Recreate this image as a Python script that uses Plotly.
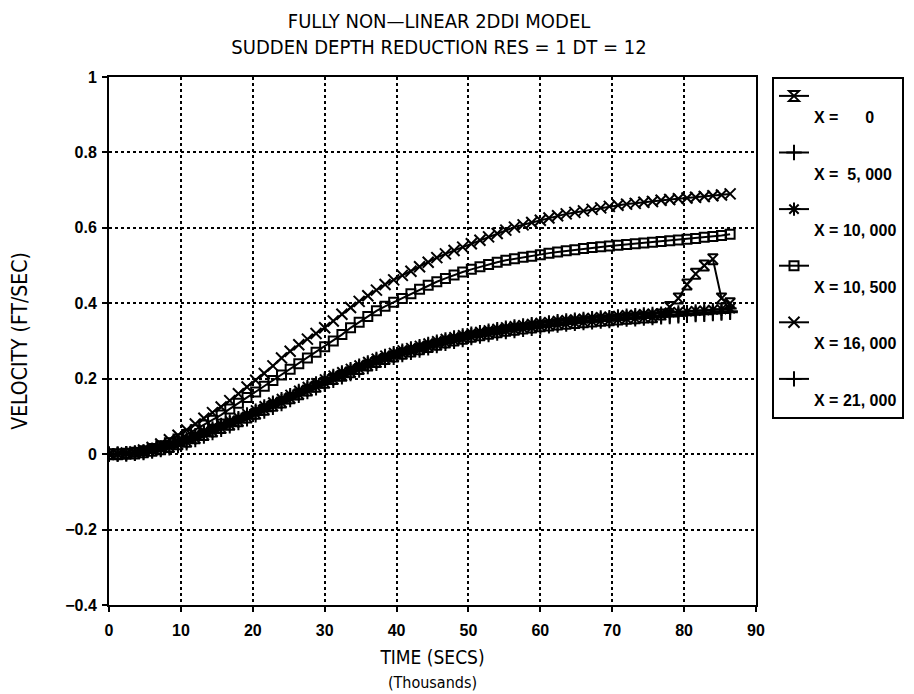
import plotly.graph_objects as go

# Time in thousands of seconds
time_k = [0, 1.2, 2.4, 3.6, 4.8, 6, 7.2, 8.4, 9.6, 10.8, 12, 13.2, 14.4, 15.6, 16.8, 18,
          19.2, 20.4, 21.6, 22.8, 24, 25.2, 26.4, 27.6, 28.8, 30, 31.2, 32.4, 33.6, 34.8,
          36, 37.2, 38.4, 39.6, 40.8, 42, 43.2, 44.4, 45.6, 46.8, 48, 49.2, 50.4, 51.6,
          52.8, 54, 55.2, 56.4, 57.6, 58.8, 60, 61.2, 62.4, 63.6, 64.8, 66, 67.2, 68.4,
          69.6, 70.8, 72, 73.2, 74.4, 75.6, 76.8, 78, 79.2, 80.4, 81.6, 82.8, 84, 85.2, 86.4]

v_x0 = [0, 0, 0.001, 0.002, 0.005, 0.009, 0.013, 0.019, 0.026, 0.033, 0.042, 0.051, 0.06,
        0.069, 0.078, 0.087, 0.097, 0.107, 0.118, 0.128, 0.137, 0.148, 0.159, 0.169, 0.179,
        0.189, 0.199, 0.208, 0.217, 0.226, 0.235, 0.244, 0.252, 0.259, 0.266, 0.272, 0.278,
        0.284, 0.29, 0.296, 0.301, 0.306, 0.311, 0.315, 0.319, 0.323, 0.327, 0.33, 0.333,
        0.336, 0.339, 0.341, 0.344, 0.346, 0.348, 0.35, 0.352, 0.354, 0.355, 0.357, 0.359,
        0.36, 0.362, 0.363, 0.37, 0.39, 0.413, 0.45, 0.478, 0.5, 0.517, 0.413, 0.40]

v_x5000 = [0, 0, 0.001, 0.003, 0.006, 0.01, 0.015, 0.021, 0.028, 0.035, 0.045, 0.054, 0.063,
           0.072, 0.081, 0.09, 0.1, 0.11, 0.121, 0.131, 0.14, 0.151, 0.162, 0.172, 0.182,
           0.192, 0.202, 0.211, 0.22, 0.229, 0.238, 0.247, 0.255, 0.262, 0.269, 0.275, 0.281,
           0.287, 0.293, 0.299, 0.304, 0.309, 0.314, 0.318, 0.322, 0.326, 0.33, 0.333, 0.336,
           0.339, 0.342, 0.344, 0.347, 0.349, 0.351, 0.353, 0.355, 0.357, 0.358, 0.36, 0.362,
           0.363, 0.365, 0.366, 0.367, 0.369, 0.37, 0.371, 0.373, 0.374, 0.376, 0.377, 0.379]

v_x10000 = [0, 0.001, 0.002, 0.004, 0.008, 0.013, 0.019, 0.026, 0.034, 0.042, 0.052, 0.061,
            0.07, 0.079, 0.088, 0.097, 0.107, 0.117, 0.128, 0.138, 0.147, 0.158, 0.169,
            0.179, 0.189, 0.199, 0.209, 0.218, 0.227, 0.236, 0.245, 0.254, 0.262, 0.269,
            0.276, 0.282, 0.288, 0.294, 0.3, 0.306, 0.311, 0.316, 0.321, 0.325, 0.329,
            0.333, 0.337, 0.34, 0.343, 0.346, 0.349, 0.351, 0.354, 0.356, 0.358, 0.36,
            0.362, 0.364, 0.365, 0.367, 0.369, 0.37, 0.372, 0.373, 0.374, 0.376, 0.377,
            0.378, 0.38, 0.381, 0.383, 0.384, 0.386]

v_x10500 = [0, 0, 0.002, 0.005, 0.009, 0.015, 0.022, 0.03, 0.04, 0.052, 0.065, 0.077, 0.09,
            0.104, 0.12, 0.135, 0.15, 0.165, 0.18, 0.195, 0.21, 0.225, 0.24, 0.255, 0.27,
            0.285, 0.3, 0.317, 0.335, 0.35, 0.365, 0.38, 0.392, 0.403, 0.413, 0.425, 0.437,
            0.448, 0.457, 0.466, 0.475, 0.483, 0.49, 0.497, 0.503, 0.509, 0.514, 0.518,
            0.522, 0.525, 0.529, 0.533, 0.536, 0.539, 0.542, 0.545, 0.548, 0.55, 0.552,
            0.554, 0.556, 0.558, 0.56, 0.562, 0.564, 0.566, 0.568, 0.57, 0.572, 0.575,
            0.577, 0.58, 0.583]

v_x16000 = [0, 0, 0.003, 0.006, 0.011, 0.018, 0.027, 0.038, 0.05, 0.064, 0.08, 0.095, 0.11,
            0.125, 0.142, 0.16, 0.178, 0.196, 0.214, 0.234, 0.255, 0.273, 0.29, 0.305, 0.32,
            0.335, 0.353, 0.371, 0.389, 0.405, 0.42, 0.435, 0.45, 0.462, 0.474, 0.485, 0.497,
            0.509, 0.521, 0.531, 0.54, 0.549, 0.558, 0.567, 0.576, 0.585, 0.594, 0.602,
            0.608, 0.614, 0.62, 0.626, 0.632, 0.637, 0.641, 0.645, 0.649, 0.653, 0.657,
            0.66, 0.663, 0.665, 0.668, 0.67, 0.673, 0.675, 0.677, 0.679, 0.681, 0.683,
            0.685, 0.687, 0.69]

v_x21000 = [0, 0, 0.001, 0.002, 0.004, 0.008, 0.012, 0.017, 0.023, 0.03, 0.039, 0.048, 0.057,
            0.066, 0.075, 0.084, 0.094, 0.104, 0.114, 0.124, 0.134, 0.145, 0.156, 0.166,
            0.176, 0.186, 0.196, 0.205, 0.214, 0.223, 0.232, 0.241, 0.249, 0.257, 0.264,
            0.27, 0.276, 0.282, 0.288, 0.294, 0.299, 0.304, 0.309, 0.313, 0.317, 0.321,
            0.325, 0.328, 0.331, 0.334, 0.337, 0.34, 0.342, 0.345, 0.347, 0.349, 0.351,
            0.353, 0.354, 0.356, 0.358, 0.359, 0.361, 0.362, 0.364, 0.365, 0.367, 0.368,
            0.37, 0.371, 0.373, 0.374, 0.376]

series_names = ["<br>X =      0", "<br>X =  5, 000", "<br>X = 10, 000",
                "<br>X = 10, 500", "<br>X = 16, 000", "<br>X = 21, 000"]
series_values = [v_x0, v_x5000, v_x10000, v_x10500, v_x16000, v_x21000]
series_symbols = ["hourglass-open", "cross-thin-open", "asterisk-open",
                  "square-open", "x-thin-open", "cross-thin-open"]
series_sizes = [10, 11, 11, 9, 11, 11]

x_ticks = [0, 10, 20, 30, 40, 50, 60, 70, 80, 90]
x_ticklabels = ["0", "10", "20", "30", "40", "50", "60", "70", "80", "90"]
y_ticks = [-0.4, -0.2, 0, 0.2, 0.4, 0.6, 0.8, 1]
y_ticklabels = ["\u22120.4", "\u22120.2", "0", "0.2", "0.4", "0.6", "0.8", "1"]

fig = go.Figure()
for i, (name, vals, sym, sz) in enumerate(zip(series_names, series_values, series_symbols, series_sizes)):
    fig.add_trace(go.Scatter(
        x=time_k, y=vals, name=name, mode="lines+markers", legendgroup="g%d" % i,
        line=dict(color="black", width=2),
        marker=dict(symbol=sym, size=sz, color="black", line=dict(color="black", width=2)),
    ))

tick_font = dict(family="Liberation Sans, Arial, sans-serif", size=16, color="black")
narrow = "Liberation Sans Narrow, DejaVu Sans Condensed, Arial Narrow, sans-serif"

fig.update_layout(
    width=914, height=694,
    margin=dict(l=101, r=166, t=69, b=97),
    paper_bgcolor="white", plot_bgcolor="white",
    title=dict(
        text="FULLY NON\u2014LINEAR 2DDI MODEL<br>SUDDEN DEPTH REDUCTION RES = 1 DT = 12",
        x=0.4716, xanchor="center", y=0.971, yanchor="top",
        font=dict(family=narrow, size=20, color="black"),
    ),
    legend=dict(
        x=1.0 + 16 / 647.0, xanchor="left", y=1.0, yanchor="top",
        bordercolor="black", borderwidth=2, bgcolor="white",
        font=dict(family="Liberation Sans, Arial, sans-serif", size=16, color="black",
                  weight="bold"),
        valign="top", itemwidth=30, tracegroupgap=12,
    ),
    showlegend=True,
)

fig.update_xaxes(
    range=[0, 90], tickvals=x_ticks, ticktext=["<b>%s</b>" % t for t in x_ticklabels],
    ticks="outside", ticklen=5, tickwidth=1.5, tickcolor="black", ticklabelstandoff=5,
    showline=True, linecolor="black", linewidth=2, mirror=True,
    showgrid=True, gridcolor="black", gridwidth=1.5, griddash="dot", zeroline=False,
    tickfont=tick_font, automargin=False,
    title=dict(text="TIME (SECS)<br><span style='font-size:16px'>(Thousands)</span>",
               font=dict(family=narrow, size=19, color="black"), standoff=12),
)
fig.update_yaxes(
    range=[-0.4, 1], tickvals=y_ticks, ticktext=["<b>%s</b>" % t for t in y_ticklabels],
    ticks="outside", ticklen=5, tickwidth=1.5, tickcolor="black", ticklabelstandoff=2,
    showline=True, linecolor="black", linewidth=2, mirror=True,
    showgrid=True, gridcolor="black", gridwidth=1.5, griddash="dot", zeroline=False,
    tickfont=tick_font, automargin=False,
    title=dict(text="VELOCITY (FT/SEC)",
               font=dict(family=narrow, size=21, color="black"), standoff=32),
)

fig.write_html("out.html")
